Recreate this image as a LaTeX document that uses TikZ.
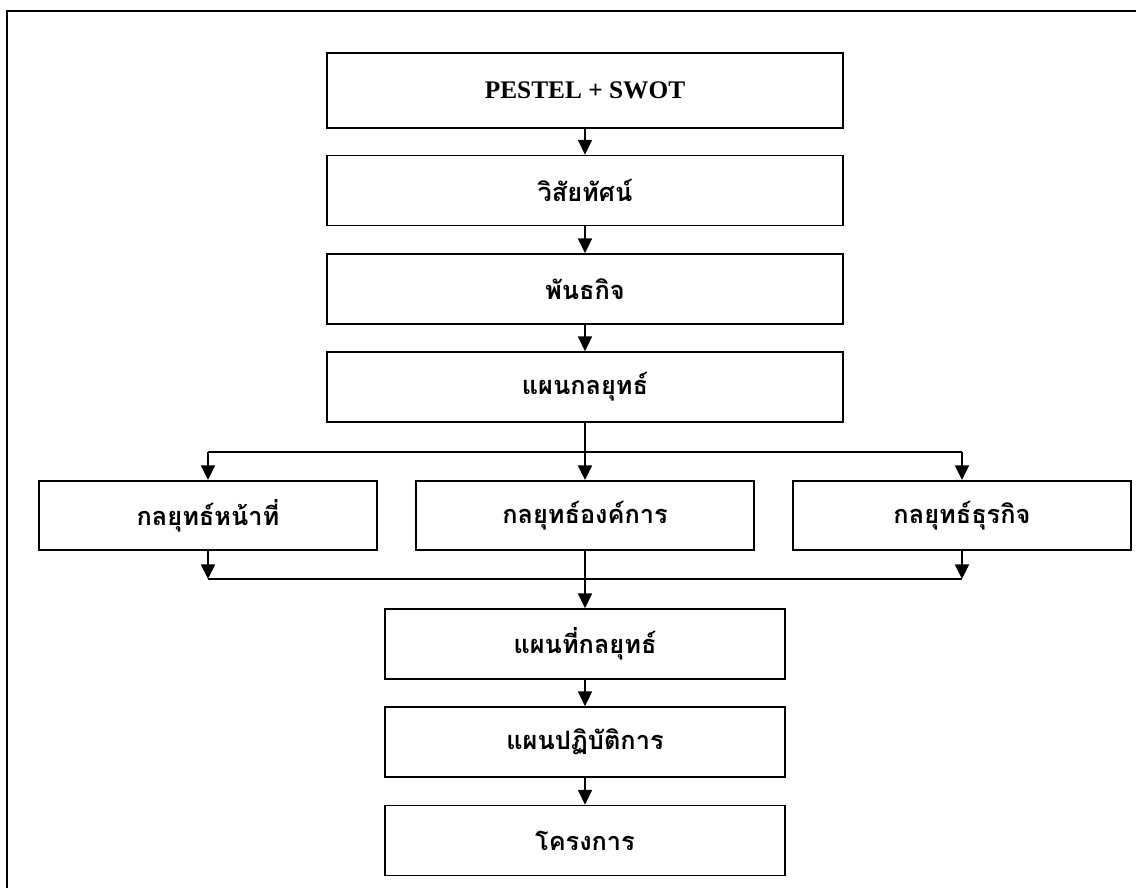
\documentclass[tikz,border=0pt]{standalone}
\usepackage{fontspec}
\setmainfont{Liberation Serif}
\newfontfamily\thaifont[Script=Thai]{Loma}
\usetikzlibrary{arrows.meta}

\begin{document}
\begin{tikzpicture}[x=0.75pt, y=-0.75pt,
    box/.style={draw, line width=1.3pt, inner sep=0pt, font=\thaifont\bfseries\fontsize{19}{22}\selectfont},
    topbox/.style={box, minimum width=387pt, minimum height=52.5pt},
    midbox/.style={box, minimum width=254pt, minimum height=52pt},
    lowbox/.style={box, minimum width=300pt, minimum height=52.5pt},
    arr/.style={line width=1.3pt, -{Triangle[length=11pt, width=10.5pt]}},
    link/.style={line width=1.3pt}]
    \useasboundingbox (0,0) rectangle (1136,888);
    \draw[line width=1.5pt] (7,888) -- (7,11) -- (1136,11);
    % main column
    \node[topbox, minimum height=56pt, font=\bfseries\fontsize{19}{22}\selectfont] (pestel) at (585,90.5) {PESTEL + SWOT};
    \node[topbox] (vision) at (585,190.5) {วิสัยทัศน์};
    \node[topbox] (mission) at (585,289) {พันธกิจ};
    \node[topbox] (plan) at (585,387) {แผนกลยุทธ์};
    % three strategies
    \node[midbox] (func) at (208,515.5) {กลยุทธ์หน้าที่};
    \node[midbox] (corp) at (585,515.5) {กลยุทธ์องค์การ};
    \node[midbox] (biz) at (962,515.5) {กลยุทธ์ธุรกิจ};
    \node[lowbox] (map) at (585,644) {แผนที่กลยุทธ์};
    \node[lowbox] (action) at (585,742) {แผนปฏิบัติการ};
    \node[lowbox] (project) at (585,840.5) {โครงการ};
    \coordinate (split) at (585,452);
    \coordinate (merge) at (585,579);
    \foreach \a/\b in {pestel/vision, vision/mission, mission/plan, map/action, action/project}
      \draw[arr] (\a.south) -- (\b.north);
    \draw[arr] (plan.south) -- (corp.north);
    \draw[link] (split -| func.north) -- (split -| biz.north);
    \draw[arr] (split -| func.north) -- (func.north);
    \draw[arr] (split -| biz.north) -- (biz.north);
    \draw[arr] (func.south) -- (merge -| func.south);
    \draw[arr] (biz.south) -- (merge -| biz.south);
    \draw[link] (merge -| func.south) -- (merge -| biz.south);
    \draw[arr] (corp.south) -- (map.north);
\end{tikzpicture}
\end{document}
